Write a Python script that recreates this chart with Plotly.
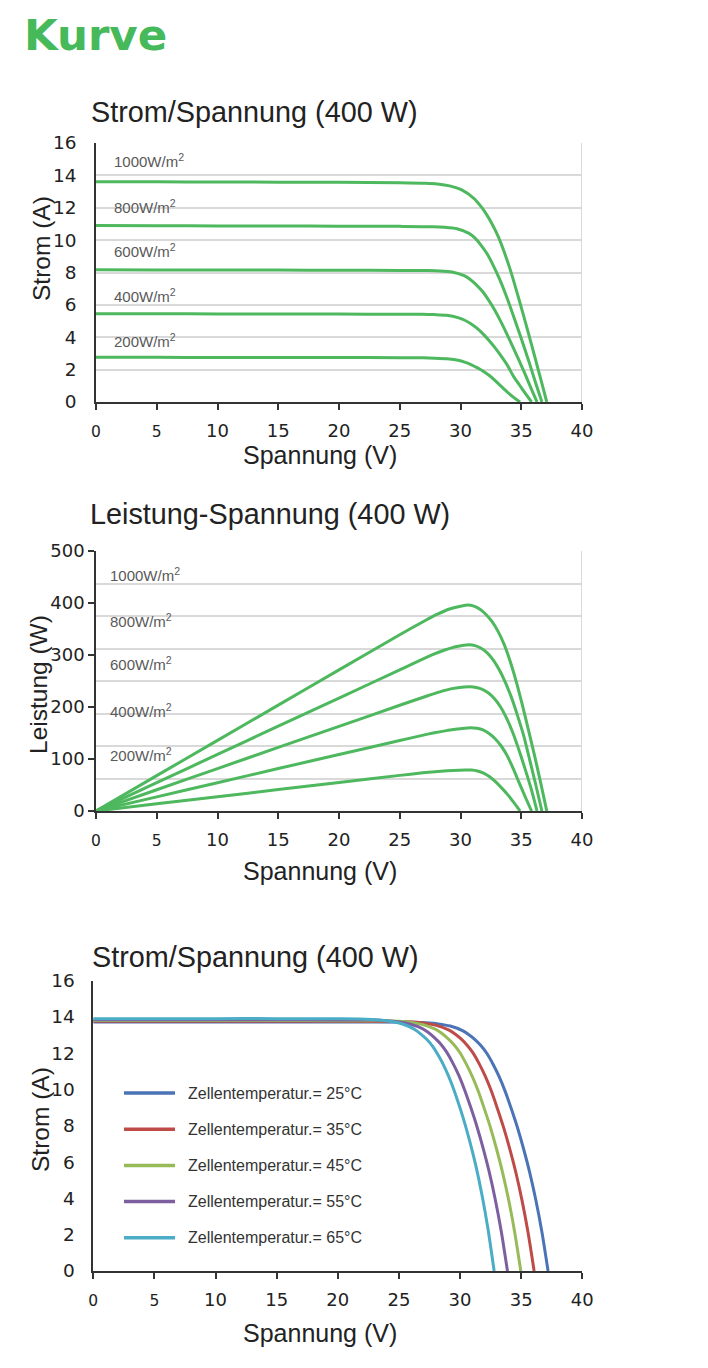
import plotly.graph_objects as go

# page is 708x1368 with the browser's 8px body margin -> figure 692x1352
PAGE_OFF = 8
W, H = 692, 1352

# ---------------- data ----------------
irr_labels = ["1000W/m<sup>2</sup>", "800W/m<sup>2</sup>", "600W/m<sup>2</sup>", "400W/m<sup>2</sup>", "200W/m<sup>2</sup>"]

iv_v_1000 = [0, 5, 10, 15, 20, 25, 27.1, 28.1, 29.1, 30.1, 31.1, 31.6, 32.1, 32.6, 33.1, 33.6, 34.1, 34.6, 35.1, 35.6, 36.1, 36.6, 37.1]
iv_i_1000 = [13.6, 13.6, 13.59, 13.58, 13.57, 13.55, 13.52, 13.47, 13.35, 13.1, 12.58, 12.16, 11.64, 11.0, 10.23, 9.26, 8.16, 6.9, 5.58, 4.22, 2.83, 1.43, 0]
iv_v_800 = [0, 5, 10, 15, 20, 25, 27.7, 28.7, 29.7, 30.7, 31.2, 31.7, 32.2, 32.7, 33.2, 33.7, 34.2, 34.7, 35.2, 35.7, 36.2, 36.7]
iv_i_800 = [10.9, 10.89, 10.88, 10.87, 10.86, 10.85, 10.83, 10.79, 10.7, 10.42, 10.12, 9.68, 9.14, 8.43, 7.62, 6.69, 5.66, 4.57, 3.48, 2.34, 1.14, 0]
iv_v_600 = [0, 5, 10, 15, 20, 25, 27.3, 28.3, 29.3, 30.3, 30.8, 31.3, 31.8, 32.3, 32.8, 33.3, 33.8, 34.3, 34.8, 35.3, 35.8, 36.3]
iv_i_600 = [8.17, 8.16, 8.16, 8.15, 8.14, 8.13, 8.12, 8.1, 8.03, 7.8, 7.57, 7.24, 6.84, 6.31, 5.7, 5.0, 4.23, 3.42, 2.6, 1.75, 0.86, 0]
iv_v_400 = [0, 5, 10, 15, 20, 25, 26.85, 27.85, 28.85, 29.85, 30.35, 30.85, 31.35, 31.85, 32.35, 32.85, 33.35, 33.85, 34.35, 34.85, 35.35, 35.85]
iv_i_400 = [5.45, 5.45, 5.44, 5.44, 5.43, 5.42, 5.42, 5.4, 5.36, 5.2, 5.05, 4.84, 4.56, 4.21, 3.8, 3.34, 2.83, 2.28, 1.6, 1.05, 0.52, 0]
iv_v_200 = [0, 5, 10, 15, 20, 25, 26.9, 27.9, 28.9, 29.9, 30.4, 30.9, 31.4, 31.9, 32.4, 32.9, 33.4, 33.9, 34.4, 34.9]
iv_i_200 = [2.76, 2.76, 2.75, 2.75, 2.745, 2.74, 2.73, 2.71, 2.67, 2.56, 2.45, 2.3, 2.11, 1.89, 1.62, 1.29, 0.93, 0.58, 0.27, 0]

pv_v_1000 = [0, 5, 10, 15, 20, 25, 27.1, 28.1, 29.1, 30.1, 30.6, 31.1, 31.6, 32.1, 32.6, 33.1, 33.6, 34.1, 34.6, 35.1, 35.6, 36.1, 36.6, 37.1]
pv_p_1000 = [0, 68, 135.9, 203.7, 271.4, 338.8, 366.4, 378.5, 388.5, 394.3, 396, 394, 388, 378, 364, 345, 320, 287, 248, 203, 155, 106, 54, 0]
pv_v_800 = [0, 5, 10, 15, 20, 25, 27.7, 28.7, 29.7, 30.7, 31.2, 31.7, 32.2, 32.7, 33.2, 33.7, 34.2, 34.7, 35.2, 35.7, 36.2, 36.7]
pv_p_800 = [0, 54.5, 108.8, 163.1, 217.2, 271.3, 300.5, 309.7, 316.5, 319.5, 318, 313, 304, 290, 271, 247, 218, 183, 145, 98, 50, 0]
pv_v_600 = [0, 5, 10, 15, 20, 25, 27.3, 28.3, 29.3, 30.3, 30.8, 31.3, 31.8, 32.3, 32.8, 33.3, 33.8, 34.3, 34.8, 35.3, 35.8, 36.3]
pv_p_600 = [0, 40.8, 81.6, 122.3, 162.8, 203.3, 221.7, 229.2, 235.3, 238.5, 239, 237.5, 234, 227, 216, 200, 178, 151, 118, 82, 44, 0]
pv_v_400 = [0, 5, 10, 15, 20, 25, 26.85, 27.85, 28.85, 29.85, 30.35, 30.85, 31.35, 31.85, 32.35, 32.85, 33.35, 33.85, 34.35, 34.85, 35.35, 35.85]
pv_p_400 = [0, 27.2, 54.4, 81.6, 108.6, 135.5, 145.5, 150.4, 154.6, 157.8, 159.3, 160, 159, 156, 149, 139, 125, 106, 81, 53, 26, 0]
pv_v_200 = [0, 5, 10, 15, 20, 25, 26.9, 27.9, 28.9, 29.9, 30.4, 30.9, 31.4, 31.9, 32.4, 32.9, 33.4, 33.9, 34.4, 34.9]
pv_p_200 = [0, 13.8, 27.5, 41.2, 54.9, 68.5, 73.4, 75.6, 77.4, 78.6, 79, 78.8, 77, 73, 66, 56, 44, 31, 16, 0]

temps = [25, 35, 45, 55, 65]
t_v_25 = [0, 5, 10, 15, 20, 26.2, 27.2, 28.2, 29.2, 30.2, 30.7, 31.2, 31.7, 32.2, 32.7, 33.2, 33.7, 34.2, 34.7, 35.2, 35.7, 36.2, 36.7, 37.2]
t_i_25 = [13.72, 13.72, 13.72, 13.72, 13.71, 13.7, 13.67, 13.61, 13.49, 13.24, 13.03, 12.76, 12.42, 11.98, 11.39, 10.7, 9.88, 8.92, 7.89, 6.72, 5.42, 3.91, 2.13, 0]
t_v_35 = [0, 5, 10, 15, 20, 25.06, 26.06, 27.06, 28.06, 29.06, 29.56, 30.06, 30.56, 31.06, 31.56, 32.06, 32.56, 33.06, 33.56, 34.06, 34.56, 35.06, 35.56, 36.06]
t_i_35 = [13.76, 13.76, 13.76, 13.76, 13.75, 13.74, 13.71, 13.65, 13.53, 13.28, 13.07, 12.8, 12.45, 12.01, 11.42, 10.73, 9.91, 8.94, 7.91, 6.74, 5.44, 3.92, 2.13, 0]
t_v_45 = [0, 5, 10, 15, 20, 23.97, 24.97, 25.97, 26.97, 27.97, 28.47, 28.97, 29.47, 29.97, 30.47, 30.97, 31.47, 31.97, 32.47, 32.97, 33.47, 33.97, 34.47, 34.97]
t_i_45 = [13.8, 13.8, 13.8, 13.8, 13.79, 13.78, 13.75, 13.69, 13.57, 13.32, 13.11, 12.83, 12.49, 12.05, 11.45, 10.76, 9.94, 8.97, 7.94, 6.76, 5.45, 3.93, 2.14, 0]
t_v_55 = [0, 5, 10, 15, 20, 22.88, 23.88, 24.88, 25.88, 26.88, 27.38, 27.88, 28.38, 28.88, 29.38, 29.88, 30.38, 30.88, 31.38, 31.88, 32.38, 32.88, 33.38, 33.88]
t_i_55 = [13.84, 13.84, 13.84, 13.84, 13.83, 13.82, 13.79, 13.73, 13.6, 13.36, 13.15, 12.87, 12.53, 12.08, 11.49, 10.8, 9.96, 9.0, 7.96, 6.78, 5.47, 3.94, 2.15, 0]
t_v_65 = [0, 5, 10, 15, 20, 21.79, 22.79, 23.79, 24.79, 25.79, 26.29, 26.79, 27.29, 27.79, 28.29, 28.79, 29.29, 29.79, 30.29, 30.79, 31.29, 31.79, 32.29, 32.79]
t_i_65 = [13.9, 13.9, 13.9, 13.9, 13.89, 13.88, 13.85, 13.8, 13.7, 13.48, 13.3, 13.05, 12.75, 12.35, 11.8, 11.15, 10.35, 9.4, 8.35, 7.15, 5.8, 4.2, 2.3, 0]

x_ticks = [0, 5, 10, 15, 20, 25, 30, 35, 40]
iv_y_ticks = [0, 2, 4, 6, 8, 10, 12, 14, 16]
pv_y_ticks = [0, 100, 200, 300, 400, 500]

# ---------------- styling ----------------
GREEN = "#4DB85E"
TITLE_GREEN = "#46B95A"
TEMP_COLORS = ["#4A74B5", "#BE4B48", "#98BB59", "#7D5FA0", "#4AACC5"]
GRID = "#D9D9D9"
AXIS = "#333333"
TXT = "#222222"
SANS = "Liberation Sans, Arial, sans-serif"
TICKF = "DejaVu Sans, Verdana, sans-serif"


def px_x(p):
    return (p - PAGE_OFF) / W


def px_y(p):
    return 1 - (p - PAGE_OFF) / H


def xtext(v):
    if v < 10:
        return f'<span style="font-size:15.5px">{v}</span>'
    return str(v)


LINE_SHAPE = dict(shape="spline", smoothing=0.6)

fig = go.Figure()

iv_sets = [(iv_v_1000, iv_i_1000), (iv_v_800, iv_i_800), (iv_v_600, iv_i_600),
           (iv_v_400, iv_i_400), (iv_v_200, iv_i_200)]
for vx, iy in iv_sets:
    fig.add_trace(go.Scatter(x=vx, y=iy, mode="lines", xaxis="x", yaxis="y",
                             line=dict(color=GREEN, width=3, **LINE_SHAPE),
                             showlegend=False, hoverinfo="skip"))

pv_sets = [(pv_v_1000, pv_p_1000), (pv_v_800, pv_p_800), (pv_v_600, pv_p_600),
           (pv_v_400, pv_p_400), (pv_v_200, pv_p_200)]
for vx, py in pv_sets:
    fig.add_trace(go.Scatter(x=vx, y=py, mode="lines", xaxis="x2", yaxis="y2",
                             line=dict(color=GREEN, width=3, **LINE_SHAPE),
                             showlegend=False, hoverinfo="skip"))
fig.add_trace(go.Scatter(x=[], y=[], xaxis="x2", yaxis="y4", showlegend=False))

t_sets = [(t_v_25, t_i_25), (t_v_35, t_i_35), (t_v_45, t_i_45), (t_v_55, t_i_55), (t_v_65, t_i_65)]
for (vx, iy), col in zip(t_sets, TEMP_COLORS):
    fig.add_trace(go.Scatter(x=vx, y=iy, mode="lines", xaxis="x3", yaxis="y3",
                             line=dict(color=col, width=3, **LINE_SHAPE),
                             showlegend=False, hoverinfo="skip"))

d1x = [px_x(96), px_x(582)]
d1y = [px_y(402), px_y(143)]
d2x = [px_x(96), px_x(582)]
d2y = [px_y(811), px_y(551)]
d3x = [px_x(93.3), px_x(582.3)]
d3y = [px_y(1271), px_y(980.5)]

xcommon = dict(range=[0, 40], tickmode="array", tickvals=x_ticks, automargin=False,
               ticktext=[xtext(v) for v in x_ticks], showgrid=False, zeroline=False,
               showline=True, linecolor=AXIS, linewidth=1.5, ticks="outside", ticklen=6,
               tickwidth=1.5, tickcolor=AXIS, tickfont=dict(family=TICKF, size=18, color=TXT),
               ticklabelstandoff=6, fixedrange=True)

YF = 18.5
layout = dict(
    template="none",
    width=W, height=H, margin=dict(l=0, r=0, t=0, b=0, pad=0), autosize=False,
    paper_bgcolor="white", plot_bgcolor="white", showlegend=False,
    xaxis=dict(domain=d1x, anchor="y", **xcommon),
    yaxis=dict(domain=d1y, anchor="x", range=[0, 16], tickvals=iv_y_ticks, showgrid=True,
               automargin=False, gridcolor=GRID, gridwidth=1.5, zeroline=False, showline=True,
               linecolor=AXIS, linewidth=1.5, ticks="",
               tickfont=dict(family=TICKF, size=YF, color=TXT), ticklabelstandoff=14),
    xaxis2=dict(domain=d2x, anchor="y2", **xcommon),
    yaxis2=dict(domain=d2y, anchor="x2", range=[0, 500], tickvals=pv_y_ticks, showgrid=False,
                automargin=False, zeroline=False, showline=True, linecolor=AXIS, linewidth=1.5,
                ticks="outside", ticklen=6, tickwidth=1.5, tickcolor=AXIS,
                tickfont=dict(family=TICKF, size=18, color=TXT), ticklabelstandoff=0),
    yaxis4=dict(overlaying="y2", anchor="x2", range=[0, 500], dtick=62.5, tick0=0,
                automargin=False, showgrid=True, gridcolor=GRID, gridwidth=1.5,
                showticklabels=False, ticks="", showline=False, zeroline=False),
    xaxis3=dict(domain=d3x, anchor="y3", **xcommon),
    yaxis3=dict(domain=d3y, anchor="x3", range=[0, 16], tickvals=iv_y_ticks, showgrid=False,
                automargin=False, zeroline=False, showline=True, linecolor=AXIS, linewidth=1.5,
                ticks="", tickfont=dict(family=TICKF, size=YF, color=TXT), ticklabelstandoff=13),
)
fig.update_layout(**layout)

shapes = []
shapes.append(dict(type="line", xref="x", yref="y domain", x0=40, x1=40, y0=0, y1=1,
                   line=dict(color=GRID, width=2)))
shapes.append(dict(type="line", xref="x2", yref="y2 domain", x0=40, x1=40, y0=0, y1=1,
                   line=dict(color=GRID, width=2)))

ann = []
ann.append(dict(text="<b>Kurve</b>", x=px_x(22), y=px_y(35), xref="paper", yref="paper",
                xanchor="left", yanchor="middle", showarrow=False,
                font=dict(family="DejaVu Sans", size=43.5, color=TITLE_GREEN)))

titles = [("Strom/Spannung (400 W)", 89, 112), ("Leistung-Spannung (400 W)", 88, 514),
          ("Strom/Spannung (400 W)", 90, 957)]
for t, xx, yy in titles:
    ann.append(dict(text=t, x=px_x(xx), y=px_y(yy), xref="paper", yref="paper",
                    xanchor="left", yanchor="middle", showarrow=False,
                    font=dict(family=SANS, size=28.8, color=TXT)))

for yy in [455, 871, 1333]:
    ann.append(dict(text="Spannung (V)", x=px_x(320), y=px_y(yy), xref="paper", yref="paper",
                    xanchor="center", yanchor="middle", showarrow=False,
                    font=dict(family=SANS, size=25, color=TXT)))
for t, xx, yy in [("Strom (A)", 41, 249), ("Leistung (W)", 38, 685), ("Strom (A)", 40, 1120)]:
    ann.append(dict(text=t, x=px_x(xx), y=px_y(yy), xref="paper", yref="paper",
                    xanchor="center", yanchor="middle", showarrow=False, textangle=-90,
                    font=dict(family=SANS, size=24.5, color=TXT)))

lab_y1 = [14.95, 12.1, 9.33, 6.55, 3.77]
lab_y2 = [454, 367, 283, 194, 108]
for lab, a, b in zip(irr_labels, lab_y1, lab_y2):
    ann.append(dict(text=lab, x=1.3, y=a, xref="x", yref="y", xanchor="left", yanchor="middle",
                    showarrow=False, font=dict(family=SANS, size=15, color="#595959")))
    ann.append(dict(text=lab, x=1.0, y=b, xref="x2", yref="y2", xanchor="left", yanchor="middle",
                    showarrow=False, font=dict(family=SANS, size=15, color="#595959")))

leg_y0, leg_step = 1093, 36.2
for k, (t, col) in enumerate(zip(temps, TEMP_COLORS)):
    yy = leg_y0 + k * leg_step
    shapes.append(dict(type="line", xref="paper", yref="paper", x0=px_x(124), x1=px_x(175),
                       y0=px_y(yy), y1=px_y(yy), line=dict(color=col, width=3.5)))
    ann.append(dict(text=f"Zellentemperatur.= {t}°C", x=px_x(186), y=px_y(yy), xref="paper",
                    yref="paper", xanchor="left", yanchor="middle", showarrow=False,
                    font=dict(family=SANS, size=16, color="#333333")))

fig.update_layout(shapes=shapes, annotations=ann)
fig.write_html("out.html")
